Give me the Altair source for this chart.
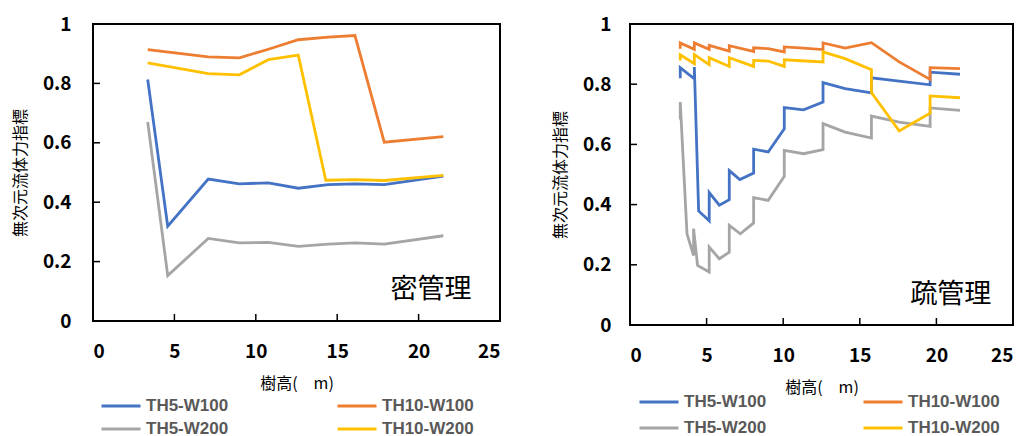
import altair as alt
import pandas as pd

SERIES = ["TH5-W100", "TH10-W100", "TH5-W200", "TH10-W200"]
COLORS = ["#4472C4", "#ED7D31", "#A5A5A5", "#FFC000"]

# ---- 密管理 (left panel) ----
dense_blue_x = [3.36, 4.59, 7.08, 8.99, 10.77, 12.61, 14.45, 16.09, 17.89, 21.52]
dense_blue_y = [0.813, 0.319, 0.478, 0.462, 0.465, 0.447, 0.459, 0.462, 0.459, 0.488]
dense_gray_x = [3.36, 4.59, 7.08, 8.99, 10.77, 12.61, 14.45, 16.09, 17.89, 21.52]
dense_gray_y = [0.670, 0.153, 0.278, 0.263, 0.265, 0.251, 0.259, 0.263, 0.259, 0.287]
dense_orange_x = [3.36, 7.08, 8.99, 10.77, 12.61, 14.45, 16.09, 17.89, 21.52]
dense_orange_y = [0.914, 0.889, 0.886, 0.915, 0.947, 0.956, 0.961, 0.602, 0.621]
dense_yellow_x = [3.36, 7.08, 8.99, 10.77, 12.61, 14.3, 16.09, 17.89, 21.52]
dense_yellow_y = [0.869, 0.833, 0.829, 0.880, 0.895, 0.474, 0.476, 0.473, 0.490]

# ---- 疏管理 (right panel) ----
sparse_blue_x = [3.28, 3.28, 4.2, 4.2, 4.48, 5.17, 5.17, 5.83, 6.48, 6.48, 7.17, 8.07, 8.07,
                 9.02, 10.07, 10.07, 11.33, 12.6, 12.6, 14.04, 15.76, 15.76, 17.57, 19.59, 19.59, 21.54]
sparse_blue_y = [0.820, 0.855, 0.818, 0.857, 0.379, 0.346, 0.440, 0.398, 0.416, 0.513, 0.483, 0.505, 0.584,
                 0.575, 0.652, 0.722, 0.715, 0.741, 0.805, 0.785, 0.771, 0.821, 0.810, 0.798, 0.840, 0.833]
sparse_gray_x = [3.28, 3.28, 3.72, 4.15, 4.15, 4.41, 5.17, 5.17, 5.83, 6.48, 6.48, 7.2, 8.07, 8.07,
                 9.02, 10.07, 10.07, 11.33, 12.6, 12.6, 14.04, 15.76, 15.76, 17.57, 19.59, 19.59, 21.54]
sparse_gray_y = [0.683, 0.741, 0.303, 0.231, 0.320, 0.198, 0.176, 0.259, 0.220, 0.242, 0.331, 0.303, 0.339, 0.423,
                 0.414, 0.494, 0.580, 0.569, 0.583, 0.669, 0.641, 0.621, 0.694, 0.674, 0.660, 0.721, 0.713]
sparse_orange_x = [3.28, 3.28, 4.2, 4.2, 5.17, 5.17, 6.48, 6.48, 8.07, 8.07, 9.02, 10.07, 10.07,
                   11.33, 12.6, 12.6, 14.04, 15.76, 17.57, 19.59, 19.59, 21.54]
sparse_orange_y = [0.918, 0.937, 0.916, 0.937, 0.916, 0.929, 0.910, 0.928, 0.909, 0.921, 0.918, 0.907, 0.924,
                   0.920, 0.915, 0.937, 0.920, 0.938, 0.874, 0.816, 0.855, 0.852]
sparse_yellow_x = [3.28, 3.28, 4.2, 4.2, 5.17, 5.17, 6.48, 6.48, 8.07, 8.07, 9.02, 10.07, 10.07,
                   12.6, 12.6, 14.04, 15.76, 15.76, 17.57, 19.59, 19.59, 21.54]
sparse_yellow_y = [0.879, 0.898, 0.868, 0.898, 0.865, 0.888, 0.859, 0.888, 0.859, 0.879, 0.877, 0.859, 0.881,
                   0.874, 0.907, 0.885, 0.848, 0.772, 0.645, 0.704, 0.761, 0.755]

x_ticks = [0, 5, 10, 15, 20, 25]
y_ticks = [0, 0.2, 0.4, 0.6, 0.8, 1]
inner_x_ticks = [5, 10, 15, 20]
inner_y_ticks = [0.2, 0.4, 0.6, 0.8]

X_TITLE = "樹高(　m)"
Y_TITLE = "無次元流体力指標"
CJK = "Noto Sans CJK JP"


def make_df(parts):
    rows = []
    for name, xs, ys in parts:
        for i, (xv, yv) in enumerate(zip(xs, ys)):
            rows.append({"series": name, "x": xv, "y": yv, "order": i})
    return pd.DataFrame(rows)


dense_df = make_df([
    ("TH5-W100", dense_blue_x, dense_blue_y),
    ("TH10-W100", dense_orange_x, dense_orange_y),
    ("TH5-W200", dense_gray_x, dense_gray_y),
    ("TH10-W200", dense_yellow_x, dense_yellow_y),
])
sparse_df = make_df([
    ("TH5-W100", sparse_blue_x, sparse_blue_y),
    ("TH10-W100", sparse_orange_x, sparse_orange_y),
    ("TH5-W200", sparse_gray_x, sparse_gray_y),
    ("TH10-W200", sparse_yellow_x, sparse_yellow_y),
])


def panel(df, w, h, label, lx, ly, legx, legy, ylabpad, colpad, rowpad):
    X = alt.X("x:Q", scale=alt.Scale(domain=[0, 25], nice=False),
              axis=alt.Axis(values=x_ticks, title=X_TITLE, labelPadding=21, titlePadding=14,
                            format="d"))
    Y = alt.Y("y:Q", scale=alt.Scale(domain=[0, 1], nice=False),
              axis=alt.Axis(values=y_ticks, title=Y_TITLE, labelPadding=ylabpad, titlePadding=14,
                            format="~g"))
    lines = alt.Chart(df).mark_line(strokeWidth=2.8).encode(
        x=X, y=Y,
        color=alt.Color("series:N",
                        scale=alt.Scale(domain=SERIES, range=COLORS),
                        legend=alt.Legend(orient="none", legendX=legx, legendY=legy,
                                          direction="horizontal",
                                          columns=2, title=None, symbolType="stroke",
                                          symbolSize=1520, symbolStrokeWidth=3,
                                          labelFont="Liberation Sans", labelFontSize=17,
                                          labelFontWeight="bold", labelColor="#595959",
                                          clipHeight=16,
                                          columnPadding=colpad, rowPadding=rowpad, labelOffset=4)),
        order="order:Q",
    )
    xt = alt.Chart(pd.DataFrame({"x": inner_x_ticks})).mark_rule(color="black", strokeWidth=1.5).encode(
        x=X, y=alt.value(h), y2=alt.value(h - 7))
    yt = alt.Chart(pd.DataFrame({"y": inner_y_ticks})).mark_rule(color="black", strokeWidth=1.5).encode(
        y=Y, x=alt.value(0), x2=alt.value(7))
    txt = alt.Chart(pd.DataFrame({"x": [lx], "y": [ly], "t": [label]})).mark_text(
        font=CJK, fontSize=27, color="black").encode(x=X, y=Y, text="t:N")
    return alt.layer(lines, xt, yt, txt).properties(width=w, height=h)


left = panel(dense_df, 407, 297, "密管理", 20.76, 0.103, 7, 374, 22, 107, 6)
right = panel(sparse_df, 383, 301, "疏管理", 20.94, 0.100, 8, 370, 19, 95, 9)

chart = alt.hconcat(left, right, spacing=50).resolve_scale(color="independent").resolve_legend(
    color="independent").properties(padding={"left": 3, "top": 6, "right": 0, "bottom": 0}).configure_view(
    stroke="black", strokeWidth=2).configure_axis(
    grid=False, domain=False, ticks=False,
    labelFont=CJK, labelFontSize=19, labelFontWeight="bold", labelColor="black",
    titleFont=CJK, titleFontSize=16, titleFontWeight="normal", titleColor="black")

chart.save("out.html", embed_options={"renderer": "svg", "actions": False})
